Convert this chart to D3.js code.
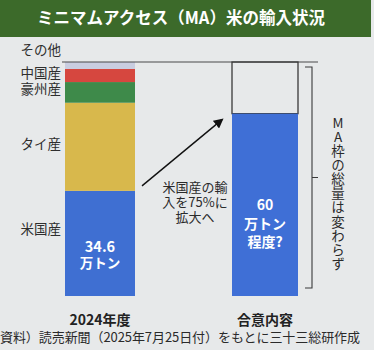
<!DOCTYPE html>
<html lang="ja">
<head>
<meta charset="utf-8">
<title>ミニマムアクセス（MA）米の輸入状況</title>
<style>
  html, body { margin: 0; padding: 0; background: #e7e9ea; }
  svg { display: block; font-family: "Noto Sans CJK JP", "Noto Sans", sans-serif; }
</style>
</head>
<body>
<script src="https://cdn.jsdelivr.net/npm/d3@7"></script>
<script>
// bar categories
var categories = ["2024年度", "合意内容"];

// 2024 import breakdown (10k tonnes), bottom to top
var origins = ["米国産", "タイ産", "豪州産", "中国産", "その他"];
var volumes2024 = [34.6, 29.0, 6.8, 4.3, 2.3];
var originColors = ["#3f6fd2", "#d8b84c", "#3e8a4a", "#d6473f", "#c9cde0"];

// agreed plan: US share and MA total
var usPlanned = 60;
var maTotal = 77;

var width = 374, height = 350;

var svg = d3.select("body").append("svg")
    .attr("width", width)
    .attr("height", height);

svg.append("rect")
    .attr("width", width).attr("height", height)
    .attr("fill", "#e7e9ea");

// title band
svg.append("rect")
    .attr("x", 0).attr("y", 0)
    .attr("width", 371).attr("height", 37)
    .attr("fill", "#3c6a2a");
svg.append("text")
    .attr("x", 181).attr("y", 24)
    .attr("text-anchor", "middle")
    .attr("fill", "#ffffff")
    .attr("font-size", 16.5)
    .attr("font-weight", "bold")
    .text("ミニマムアクセス（MA）米の輸入状況");

var xScale = d3.scalePoint().domain(categories).range([100, 265]);
var barW = [70, 66];
var yScale = d3.scaleLinear().domain([0, maTotal]).range([296, 62]);

// stacked 2024 bar
var stacked = [];
var acc = 0;
volumes2024.forEach(function(v, i) {
    stacked.push({origin: origins[i], y0: acc, y1: acc + v, color: originColors[i]});
    acc += v;
});

var x0 = xScale(categories[0]) - barW[0] / 2;
svg.selectAll(".seg").data(stacked).enter().append("rect")
    .attr("class", "seg")
    .attr("x", x0)
    .attr("width", barW[0])
    .attr("y", d => yScale(d.y1))
    .attr("height", d => yScale(d.y0) - yScale(d.y1))
    .attr("fill", d => d.color);

// origin labels to the left of the bar
var labelShift = {"その他": -12, "中国産": -3, "豪州産": -3, "タイ産": -3, "米国産": -14};
svg.selectAll(".lab").data(stacked).enter().append("text")
    .attr("class", "lab")
    .attr("x", 61)
    .attr("y", function(d) {
        var mid = d.origin === "その他" ? yScale(d.y1) : (yScale(d.y0) + yScale(d.y1)) / 2;
        return mid + labelShift[d.origin] + 5;
    })
    .attr("text-anchor", "end")
    .attr("fill", "#2e2e2e")
    .attr("font-size", 13.5)
    .text(d => d.origin);

// total reference line
svg.append("line")
    .attr("x1", 62).attr("x2", 318)
    .attr("y1", yScale(maTotal)).attr("y2", yScale(maTotal))
    .attr("stroke", "#4a4a4a").attr("stroke-width", 1.2);

// value inside the US segment
var us = stacked[0];
var usText = svg.append("text")
    .attr("x", xScale(categories[0]))
    .attr("text-anchor", "middle")
    .attr("fill", "#ffffff")
    .attr("font-size", 14.5)
    .attr("font-weight", "bold");
usText.append("tspan").attr("x", xScale(categories[0])).attr("y", 252).text(us.y1);
usText.append("tspan").attr("x", xScale(categories[0])).attr("y", 268).attr("font-size", 13.5).text("万トン");

// agreed bar: empty MA frame + US volume
var x1 = xScale(categories[1]) - barW[1] / 2;
svg.append("rect")
    .attr("x", x1).attr("width", barW[1])
    .attr("y", yScale(maTotal))
    .attr("height", yScale(usPlanned) - yScale(maTotal))
    .attr("fill", "none")
    .attr("stroke", "#3a3a3a").attr("stroke-width", 1.3);
svg.append("rect")
    .attr("x", x1).attr("width", barW[1])
    .attr("y", yScale(usPlanned))
    .attr("height", yScale(0) - yScale(usPlanned))
    .attr("fill", "#3f6fd6");

var planText = svg.append("text")
    .attr("text-anchor", "middle")
    .attr("fill", "#ffffff")
    .attr("font-weight", "bold")
    .attr("font-size", 14);
[["60", 210], ["万トン", 229], ["程度?", 247]].forEach(function(t) {
    planText.append("tspan").attr("x", xScale(categories[1])).attr("y", t[1]).text(t[0]);
});

// category labels
svg.selectAll(".cat").data(categories).enter().append("text")
    .attr("class", "cat")
    .attr("x", d => xScale(d))
    .attr("y", 325)
    .attr("text-anchor", "middle")
    .attr("fill", "#222")
    .attr("font-size", 14)
    .attr("font-weight", "bold")
    .text(d => d);

// arrow annotation
svg.append("defs").append("marker")
    .attr("id", "head")
    .attr("viewBox", "0 0 10 10")
    .attr("refX", 8).attr("refY", 5)
    .attr("markerWidth", 7).attr("markerHeight", 7)
    .attr("orient", "auto")
  .append("path")
    .attr("d", "M0,0 L10,5 L0,10 Z")
    .attr("fill", "#111");

svg.append("line")
    .attr("x1", x0 + barW[0] + 7).attr("y1", yScale(us.y1) - 5)
    .attr("x2", x1 - 10).attr("y2", yScale(usPlanned) + 6)
    .attr("stroke", "#111").attr("stroke-width", 1.4)
    .attr("marker-end", "url(#head)");

var note = svg.append("text")
    .attr("text-anchor", "middle")
    .attr("fill", "#2a2a2a")
    .attr("font-size", 13);
[["米国産の輸", 192], ["入を75%に", 207], ["拡大へ", 222]].forEach(function(t) {
    note.append("tspan").attr("x", 195).attr("y", t[1]).text(t[0]);
});

// bracket for the MA frame
var bx = 312, bTop = yScale(maTotal) + 5, bBot = yScale(0) - 8;
svg.append("path")
    .attr("d", "M" + (bx - 7) + "," + bTop + " H" + bx + " V" + bBot + " H" + (bx - 7) +
               " M" + bx + "," + ((bTop + bBot) / 2) + " H" + (bx + 6))
    .attr("fill", "none")
    .attr("stroke", "#3a3a3a").attr("stroke-width", 1.1);

// vertical caption beside the bracket
svg.append("text")
    .attr("x", 338).attr("y", 116)
    .attr("fill", "#2a2a2a")
    .attr("font-size", 13.5)
    .style("writing-mode", "vertical-rl")
    .style("text-orientation", "upright")
    .style("letter-spacing", "0.6px")
    .text("MA枠の総量は変わらず");

// source note
svg.append("text")
    .attr("x", 0).attr("y", 342)
    .attr("fill", "#2a2a2a")
    .attr("font-size", 13)
    .attr("textLength", 360)
    .text("資料）読売新聞（2025年7月25日付）をもとに三十三総研作成");
</script>
</body>
</html>
